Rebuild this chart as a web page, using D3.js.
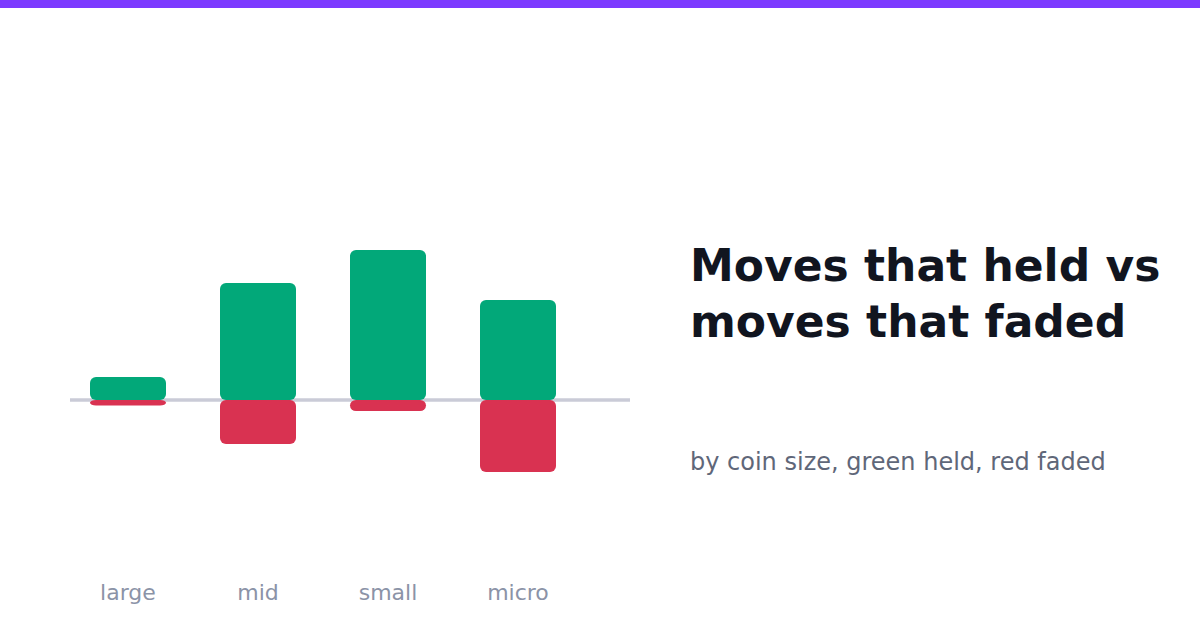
<!DOCTYPE html>
<html>
<head>
<meta charset="utf-8">
<script src="https://cdn.jsdelivr.net/npm/d3@7"></script>
<style>
  html, body { margin: 0; padding: 0; background: #ffffff; }
  svg { display: block; }
</style>
</head>
<body>
<script>
const categories = ["large", "mid", "small", "micro"];
const heldValues = [23, 117, 150, 100];
const fadedValues = [5.5, 44, 11, 72];
const titleLines = ["Moves that held vs", "moves that faded"];
const subtitle = "by coin size, green held, red faded";

const W = 1200, H = 630;
const svg = d3.select("body").append("svg").attr("width", W).attr("height", H);

svg.append("rect").attr("x", 0).attr("y", 0).attr("width", W).attr("height", 8).attr("fill", "#7c3aff");

const baseY = 400;
const x = d3.scalePoint().domain(categories).range([128, 518]);
const barW = 76;
const hScale = d3.scaleLinear().domain([0, 150]).range([0, 150]);

svg.append("line")
  .attr("x1", 70).attr("x2", 630)
  .attr("y1", baseY).attr("y2", baseY)
  .attr("stroke", "#cacbd7").attr("stroke-width", 3.5);

svg.selectAll("rect.faded").data(categories).join("rect")
  .attr("class", "faded")
  .attr("x", d => x(d) - barW / 2)
  .attr("y", baseY)
  .attr("width", barW)
  .attr("height", (d, i) => hScale(fadedValues[i]))
  .attr("rx", 6)
  .attr("fill", "#d93251");

svg.selectAll("rect.held").data(categories).join("rect")
  .attr("class", "held")
  .attr("x", d => x(d) - barW / 2)
  .attr("y", (d, i) => baseY - hScale(heldValues[i]))
  .attr("width", barW)
  .attr("height", (d, i) => hScale(heldValues[i]))
  .attr("rx", 6)
  .attr("fill", "#02a879");

svg.selectAll("text.cat").data(categories).join("text")
  .attr("class", "cat")
  .attr("x", d => x(d))
  .attr("y", 600)
  .attr("text-anchor", "middle")
  .attr("font-family", "DejaVu Sans, sans-serif")
  .attr("font-size", 22)
  .attr("fill", "#8b93a7")
  .text(d => d);

svg.selectAll("text.title").data(titleLines).join("text")
  .attr("class", "title")
  .attr("x", 690)
  .attr("y", (d, i) => 281 + i * 56)
  .attr("font-family", "DejaVu Sans, sans-serif")
  .attr("font-weight", "bold")
  .attr("font-size", 44)
  .attr("fill", "#11151f")
  .text(d => d);

svg.append("text")
  .attr("x", 690).attr("y", 470)
  .attr("font-family", "DejaVu Sans, sans-serif")
  .attr("font-size", 24)
  .attr("fill", "#5f6779")
  .text(subtitle);
</script>
</body>
</html>
